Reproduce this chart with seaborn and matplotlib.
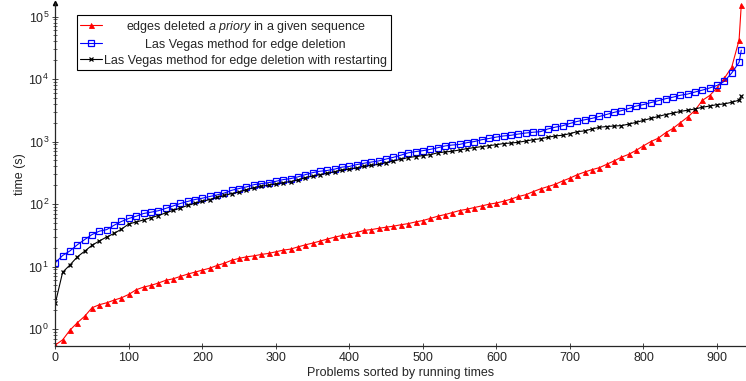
import matplotlib
matplotlib.use('Agg')
import matplotlib.pyplot as plt
from matplotlib.transforms import Affine2D
import pandas as pd
import seaborn as sns

# problem index (markers every 10 problems, plus the last one)
x = list(range(0, 931, 10)) + [933]

apriori = [0.555, 0.67, 0.96, 1.26, 1.6, 2.19, 2.45, 2.63, 2.9, 3.16,
           3.58, 4.25, 4.68, 4.99, 5.43, 6.0, 6.35, 6.93, 7.56, 8.13,
           8.76, 9.4, 10.4, 11.3, 12.6, 13.5, 14.3, 14.8, 15.6, 16.2,
           17.2, 18.3, 19.0, 20.6, 22.2, 23.7, 25.5, 27.5, 29.5, 31.4,
           33.2, 35.0, 37.8, 39.0, 40.9, 42.6, 44.2, 46.6, 48.6, 51.7,
           54.5, 58.8, 63.8, 67.8, 73, 78.7, 82.6, 88, 93.4, 99.3,
           104, 111, 120, 132, 141, 158, 175, 190, 207, 234,
           260, 295, 325, 355, 382, 432, 490, 562, 624, 724,
           855, 1000, 1130, 1380, 1620, 2000, 2460, 3150, 4550, 5450,
           7200, 10300, 15500, 42000, 155000]

las_vegas = [11.5, 15, 17.8, 22.3, 27, 32.5, 36.8, 39, 45.8, 52.6,
             58.8, 63.8, 70.6, 74, 78, 85, 93, 102, 110, 118,
             124, 132, 140, 150, 166, 177, 188, 204, 212, 220,
             231, 246, 255, 272, 295, 318, 335, 345, 362, 390,
             400, 427, 450, 470, 490, 525, 560, 605, 660, 690,
             715, 750, 795, 850, 880, 900, 960, 1000, 1070, 1120,
             1180, 1230, 1260, 1320, 1370, 1410, 1440, 1590, 1700, 1790,
             1950, 2100, 2230, 2350, 2520, 2720, 2930, 3120, 3380, 3700,
             3900, 4200, 4500, 4850, 5130, 5500, 5750, 6200, 6650, 7200,
             7900, 9200, 12500, 18500, 29000]

restarting = [2.57, 8.1, 10.6, 14.3, 17.6, 21.9, 25.7, 29.7, 33.8, 39.7,
              48, 51.6, 55.6, 60.5, 65.3, 72, 79, 86, 95, 103,
              110, 118, 128, 137, 147, 156, 170, 183, 192, 200,
              210, 220, 229, 243, 265, 280, 295, 310, 330, 350,
              362, 380, 400, 417, 432, 458, 490, 520, 555, 575,
              595, 617, 660, 680, 700, 733, 770, 800, 830, 860,
              890, 930, 945, 975, 1020, 1070, 1110, 1170, 1230, 1260,
              1340, 1440, 1480, 1590, 1690, 1740, 1770, 1800, 1900, 2030,
              2180, 2350, 2520, 2700, 2850, 3030, 3170, 3320, 3540, 3700,
              3900, 4000, 4250, 4600, 5300]

labels = ['edges deleted $\\it{a\\ priory}$ in a given sequence',
          'Las Vegas method for edge deletion',
          'Las Vegas method for edge deletion with restarting']

sns.set_style('ticks')
plt.rcParams['font.family'] = ['Liberation Sans', 'DejaVu Sans']
plt.rcParams['mathtext.fontset'] = 'custom'
plt.rcParams['mathtext.rm'] = 'Liberation Sans'
plt.rcParams['mathtext.it'] = 'Liberation Sans:italic'
plt.rcParams['font.size'] = 9

df = pd.DataFrame({'x': x, 'a': apriori, 'b': las_vegas, 'c': restarting})

fig = plt.figure(figsize=(7.46, 3.81), dpi=100)
ax = fig.add_axes([0.0741, 0.0919, 0.9245, 0.9003])

sns.lineplot(data=df, x='x', y='a', ax=ax, color='red', lw=0.8, marker='^',
             markersize=3.6, markerfacecolor='red', markeredgecolor='red',
             markeredgewidth=0.6, label=labels[0])
sns.lineplot(data=df, x='x', y='b', ax=ax, color='blue', lw=0.8, marker='s',
             markersize=3.8, markerfacecolor='none', markeredgecolor='blue',
             markeredgewidth=0.9, label=labels[1])
sns.lineplot(data=df, x='x', y='c', ax=ax, color='black', lw=0.8, marker='x',
             markersize=2.8, markeredgecolor='black', markeredgewidth=0.9, label=labels[2])

ax.set_yscale('log')
ax.set_xlim(0, 938)
ax.set_ylim(0.535, 1.65e5)
ax.set_xticks(range(0, 901, 100))
ax.set_xlabel('Problems sorted by running times', labelpad=2)
ax.set_ylabel('time (s)', labelpad=2)

for s in ['top', 'right']:
    ax.spines[s].set_visible(False)
for s in ['left', 'bottom']:
    ax.spines[s].set_linewidth(0.9)
ax.tick_params(which='major', direction='inout', length=5, width=0.6, pad=2)
ax.tick_params(which='minor', direction='inout', length=3, width=0.5)
ax.tick_params(axis='x', which='minor', length=0)

# arrow heads at the ends of the axes
ax.plot(1, 0, '>k', ms=3, transform=ax.get_yaxis_transform(), clip_on=False)
ax.plot(0, 1, '^k', ms=3, transform=ax.get_xaxis_transform(), clip_on=False)

leg = ax.legend(loc='upper left', bbox_to_anchor=(0.031, 0.965), fontsize=9,
                frameon=True, fancybox=False, framealpha=1, edgecolor='black',
                borderpad=0.3, labelspacing=0.32, handlelength=1.7, handletextpad=0.2,
                borderaxespad=0)
leg.get_frame().set_linewidth(0.8)

# gnuplot style: legend texts centred in their column
fig.canvas.draw()
texts = leg.get_texts()
widths = [t.get_window_extent().width for t in texts]
for t, w in zip(texts, widths):
    t.set_transform(t.get_transform() + Affine2D().translate((max(widths) - w) / 2, 0))

fig.savefig('out.png', dpi=100)
